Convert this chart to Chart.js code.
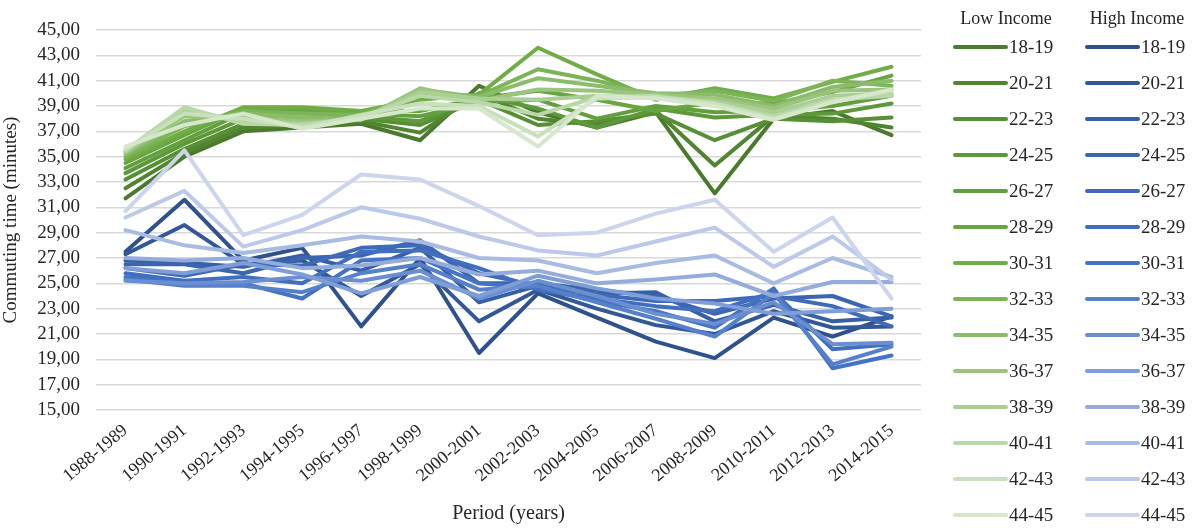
<!DOCTYPE html>
<html>
<head>
<meta charset="utf-8">
<title>Commuting time by age and income</title>
<script src="https://cdn.jsdelivr.net/npm/chart.js@4.4.1/dist/chart.umd.min.js"></script>
<style>
  html, body { margin: 0; padding: 0; background: #fff; }
  #wrap { width: 1195px; height: 528px; }
</style>
</head>
<body>
<div id="wrap"><canvas id="chart" width="1195" height="528"></canvas></div>
<script>
// periods on the x axis
const periods = ['1988-1989', '1990-1991', '1992-1993', '1994-1995', '1996-1997', '1998-1999', '2000-2001',
  '2002-2003', '2004-2005', '2006-2007', '2008-2009', '2010-2011', '2012-2013', '2014-2015'];

const ageGroups = ['18-19', '20-21', '22-23', '24-25', '26-27', '28-29', '30-31',
  '32-33', '34-35', '36-37', '38-39', '40-41', '42-43', '44-45'];

// low income, minutes per age group
const low18 = [31.7, 35.0, 37.0, 37.3, 37.6, 36.3, 40.6, 38.5, 37.3, 38.5, 32.1, 38.0, 38.6, 36.7];
const low20 = [32.5, 35.3, 37.3, 37.5, 37.8, 36.9, 40.0, 38.0, 37.5, 38.6, 34.3, 38.2, 38.0, 37.3];
const low22 = [33.2, 35.6, 37.6, 37.8, 38.0, 37.5, 39.5, 37.5, 37.8, 38.4, 36.3, 38.0, 37.8, 38.1];
const low24 = [33.7, 36.0, 38.0, 38.1, 38.2, 37.8, 39.8, 38.8, 37.3, 38.8, 38.1, 38.3, 38.4, 39.2];
const low26 = [34.1, 36.3, 38.5, 38.5, 38.4, 38.2, 39.3, 39.5, 38.0, 39.0, 38.5, 38.6, 39.0, 39.8];
const low28 = [34.5, 36.7, 38.8, 38.7, 38.6, 38.6, 39.6, 40.2, 39.5, 38.6, 39.3, 39.2, 40.1, 41.4];
const low30 = [34.8, 37.0, 38.9, 38.9, 38.6, 39.5, 39.9, 43.6, 41.5, 39.5, 40.4, 39.6, 40.9, 42.1];
const low32 = [35.0, 37.4, 38.6, 38.4, 38.3, 39.9, 39.8, 41.9, 41.0, 39.8, 40.2, 39.4, 41.0, 40.6];
const low34 = [35.2, 37.8, 38.4, 38.1, 38.0, 40.3, 39.7, 41.2, 40.6, 40.0, 39.9, 39.0, 40.5, 41.0];
const low36 = [35.3, 38.2, 38.1, 37.8, 37.9, 40.4, 39.4, 40.3, 40.2, 39.9, 39.6, 38.8, 40.2, 40.3];
const low38 = [35.4, 38.6, 37.9, 37.6, 38.0, 40.1, 39.6, 39.5, 39.8, 39.7, 39.4, 38.5, 39.8, 40.0];
const low40 = [35.5, 38.9, 37.6, 37.5, 38.1, 39.8, 39.3, 38.3, 39.7, 39.8, 39.2, 38.2, 39.5, 39.8];
const low42 = [35.6, 38.4, 38.0, 37.3, 38.3, 39.2, 39.0, 36.6, 39.6, 39.7, 39.2, 38.0, 39.4, 40.2];
const low44 = [35.8, 37.5, 38.4, 37.2, 38.0, 38.8, 38.8, 35.8, 39.8, 39.6, 39.0, 37.9, 39.3, 40.3];

// high income, minutes per age group
const high18 = [27.5, 31.6, 26.8, 27.8, 21.6, 27.0, 19.5, 24.2, 22.3, 20.4, 19.1, 22.3, 20.8, 22.4];
const high20 = [27.3, 29.6, 26.5, 26.8, 24.0, 26.5, 22.0, 24.5, 23.0, 21.7, 21.0, 22.8, 21.5, 21.6];
const high22 = [26.8, 26.6, 26.3, 27.2, 26.0, 27.8, 23.5, 24.8, 24.2, 24.3, 22.0, 23.3, 22.0, 22.3];
const high24 = [26.5, 26.5, 25.8, 27.0, 27.2, 28.4, 25.0, 25.0, 24.5, 24.0, 22.6, 23.8, 24.0, 22.4];
const high26 = [26.2, 25.6, 26.5, 26.4, 27.8, 28.0, 25.8, 24.8, 24.1, 23.6, 23.6, 24.0, 23.2, 21.6];
const high28 = [25.8, 25.2, 25.5, 25.0, 27.5, 27.6, 26.2, 24.5, 23.8, 23.2, 22.8, 24.3, 19.8, 20.2];
const high30 = [25.5, 25.0, 25.0, 23.8, 26.8, 27.0, 25.0, 24.6, 23.6, 22.8, 21.5, 24.6, 18.3, 19.3];
const high32 = [25.3, 24.8, 24.8, 24.3, 25.8, 26.5, 24.5, 24.8, 23.5, 22.2, 20.8, 24.2, 18.6, 20.0];
const high34 = [25.2, 25.0, 25.1, 25.5, 25.2, 26.0, 23.8, 25.2, 24.0, 22.6, 21.8, 23.5, 20.2, 20.3];
const high36 = [26.2, 25.8, 26.6, 25.7, 24.2, 25.5, 24.0, 25.6, 24.6, 23.8, 23.4, 22.6, 22.8, 23.0];
const high38 = [27.0, 26.8, 27.0, 26.2, 26.4, 27.0, 25.7, 26.0, 25.0, 25.3, 25.7, 24.0, 25.1, 25.1];
const high40 = [29.2, 28.0, 27.4, 28.0, 28.7, 28.3, 27.0, 26.8, 25.8, 26.6, 27.2, 25.0, 27.0, 25.5];
const high42 = [30.2, 32.3, 27.9, 29.2, 31.0, 30.1, 28.7, 27.6, 27.2, 28.3, 29.4, 26.3, 28.7, 25.3];
const high44 = [30.7, 35.5, 28.8, 30.4, 33.6, 33.2, 31.1, 28.8, 29.0, 30.5, 31.6, 27.5, 30.2, 23.8];

const lowSeries = [low18, low20, low22, low24, low26, low28, low30, low32, low34, low36, low38, low40, low42, low44];
const highSeries = [high18, high20, high22, high24, high26, high28, high30, high32, high34, high36, high38, high40, high42, high44];

// dark to light shades, one per age group
const greens = ['#4a7a2b', '#518530', '#578f35', '#5d9839', '#63a03d', '#69a641', '#70ad47',
  '#7db457', '#8abc69', '#9bc57f', '#aacf94', '#b9d8a8', '#c8e0bb', '#d6e7cc'];
const blues = ['#2f518c', '#335898', '#375fa3', '#3b65ae', '#3e6bb8', '#416ebe', '#4472c4',
  '#5680cb', '#6a8ed0', '#7f9dd6', '#94acdc', '#a8bbe2', '#bcc9e8', '#cdd5ee'];

const serif = '"Liberation Serif", "Times New Roman", serif';
const textColor = '#262626';

function makeSet(values, i, group, colors, n) {
  return {
    label: ageGroups[i],
    group: group,
    data: values,
    borderColor: colors[i],
    backgroundColor: colors[i],
    borderWidth: 4,
    borderJoinStyle: 'round',
    borderCapStyle: 'round',
    pointRadius: 0,
    pointHoverRadius: 0,
    tension: 0,
    fill: false,
    order: 100 - n // later series sit on top
  };
}

const datasets = [];
lowSeries.forEach((v, i) => datasets.push(makeSet(v, i, 'low', greens, i)));
highSeries.forEach((v, i) => datasets.push(makeSet(v, i, 'high', blues, 14 + i)));

// two-column legend with a heading per income group
const incomeLegend = {
  id: 'incomeLegend',
  afterDraw(chart) {
    const ctx = chart.ctx;
    const cols = [
      { title: 'Low Income', group: 'low', x: 955, cx: 1006 },
      { title: 'High Income', group: 'high', x: 1087, cx: 1137 }
    ];
    ctx.save();
    cols.forEach(col => {
      ctx.fillStyle = textColor;
      ctx.font = '18px ' + serif;
      ctx.textAlign = 'center';
      ctx.textBaseline = 'middle';
      ctx.fillText(col.title, col.cx, 19);
      const sets = chart.data.datasets.filter(d => d.group === col.group);
      sets.forEach((d, i) => {
        const y = 47 + i * 36;
        ctx.strokeStyle = d.borderColor;
        ctx.lineWidth = 4;
        ctx.lineCap = 'round';
        ctx.beginPath();
        ctx.moveTo(col.x, y);
        ctx.lineTo(col.x + 51, y);
        ctx.stroke();
        ctx.fillStyle = textColor;
        ctx.font = '19px ' + serif;
        ctx.textAlign = 'left';
        ctx.fillText(d.label, col.x + 54, y + 1);
      });
    });
    ctx.restore();
  }
};

new Chart(document.getElementById('chart'), {
  type: 'line',
  data: { labels: periods, datasets },
  plugins: [incomeLegend],
  options: {
    responsive: false,
    animation: false,
    devicePixelRatio: 1,
    layout: { padding: { top: 30, right: 274, left: 0, bottom: 0 } },
    plugins: {
      legend: { display: false },
      tooltip: { enabled: false }
    },
    scales: {
      x: {
        offset: true,
        grid: { display: false },
        border: { display: false },
        ticks: {
          autoSkip: false,
          minRotation: 40,
          maxRotation: 40,
          padding: 2,
          color: textColor,
          font: { family: serif, size: 18 }
        },
        title: {
          display: true,
          text: 'Period (years)',
          color: textColor,
          font: { family: serif, size: 20 },
          padding: { top: 0, bottom: 2 }
        },
        afterFit(scale) { scale.height = 118; }
      },
      y: {
        min: 15,
        max: 45,
        grid: { color: '#d9d9d9', lineWidth: 1.5, drawTicks: false },
        border: { display: false },
        ticks: {
          stepSize: 2,
          autoSkip: false,
          maxTicksLimit: 20,
          padding: 16,
          color: textColor,
          font: { family: serif, size: 19 },
          callback: v => v.toFixed(2).replace('.', ',')
        },
        title: {
          display: true,
          text: 'Commuting time (minutes)',
          color: textColor,
          font: { family: serif, size: 19 },
          padding: { top: 0, bottom: 0 }
        },
        afterFit(scale) { scale.width = 96; }
      }
    }
  }
});
</script>
</body>
</html>
